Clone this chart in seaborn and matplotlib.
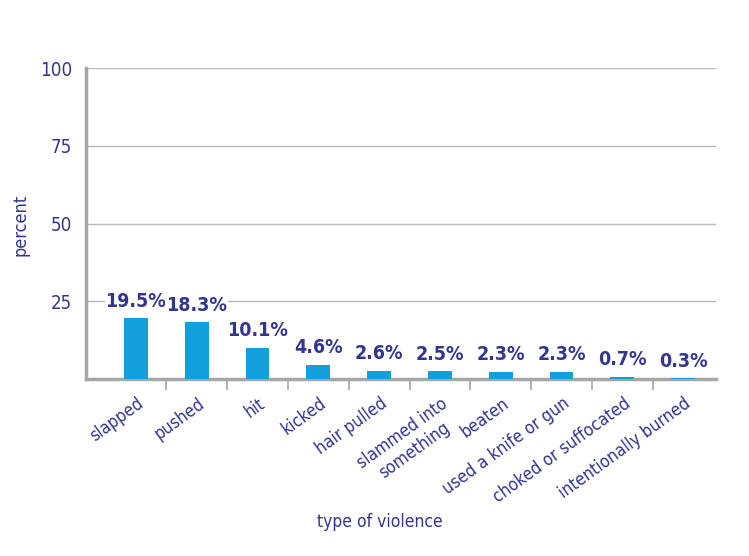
import matplotlib
matplotlib.use("Agg")
import matplotlib.pyplot as plt
import matplotlib.transforms as mtransforms
from matplotlib import font_manager
import seaborn as sns
import pandas as pd

categories = ["slapped", "pushed", "hit", "kicked", "hair pulled",
              "slammed into\nsomething", "beaten", "used a knife or gun",
              "choked or suffocated", "intentionally burned"]
values = [19.5, 18.3, 10.1, 4.6, 2.6, 2.5, 2.3, 2.3, 0.7, 0.3]
y_ticks = [25, 50, 75, 100]

TEXT = "#34358f"
BAR = "#139fd9"
GRID = "#b9b9bb"
SPINE = "#a6a6a8"

sns.set_theme(style="white")

# prefer a narrow face for all text
entries = font_manager.fontManager.ttflist
narrow = [f for f in entries
          if "narrow" in f.name.lower() or "condensed" in f.name.lower()
          or str(f.stretch).lower() in ("condensed", "semi-condensed", "extra-condensed", "ultra-condensed")
          or (isinstance(f.stretch, int) and f.stretch < 500)]
if narrow:
    plt.rcParams["font.family"] = [narrow[0].name, "DejaVu Sans"]
    plt.rcParams["font.stretch"] = narrow[0].stretch
    scale = 1.0
else:
    plt.rcParams["font.family"] = ["DejaVu Sans"]
    scale = 0.85

df = pd.DataFrame({"type": categories, "percent": values})

fig = plt.figure(figsize=(7.49, 5.56), dpi=100)
ax = fig.add_axes([86 / 749, 1 - 379 / 556, 630 / 749, 311 / 556])

sns.barplot(data=df, x="type", y="percent", color=BAR, width=0.39,
            saturation=1, linewidth=0, edgecolor="none", ax=ax, zorder=5)

ax.set_ylim(0, 100)
ax.set_xlim(-0.82, 9.54)
ax.set_yticks(y_ticks)
ax.set_yticklabels([str(t) for t in y_ticks], color=TEXT, fontsize=13.5 * scale)
ax.yaxis.grid(True, color=GRID, linewidth=1.0, zorder=0)
ax.set_axisbelow(True)

for side in ("top", "right"):
    ax.spines[side].set_visible(False)
for side in ("left", "bottom"):
    ax.spines[side].set_color(SPINE)
    ax.spines[side].set_linewidth(2.5)
    ax.spines[side].set_zorder(2)

ax.tick_params(axis="y", length=0, pad=10)

ax.set_xticks(range(len(categories)))
ax.set_xticklabels(categories, rotation=36, ha="right", rotation_mode="anchor",
                   color=TEXT, fontsize=12.5 * scale, multialignment="center")
ax.tick_params(axis="x", which="major", length=0, pad=11)
offset = mtransforms.ScaledTranslation(0.5 / 72, 0, fig.dpi_scale_trans)
for lab in ax.get_xticklabels():
    lab.set_transform(lab.get_transform() + offset)
ax.set_xticks([i + 0.5 for i in range(len(categories) - 1)], minor=True)
ax.tick_params(axis="x", which="minor", length=8, width=1.2, color=SPINE,
               direction="out", bottom=True)

for i, v in enumerate(values):
    ax.text(i, v + 2.4, f"{v:.1f}%", ha="center", va="bottom", color=TEXT,
            fontsize=14 * scale, fontweight="bold", zorder=6,
            bbox=dict(facecolor="white", edgecolor="none", pad=0.5))

ax.set_ylabel("percent", color=TEXT, fontsize=13 * scale)
ax.yaxis.set_label_coords(-0.09, 0.495)
ax.set_xlabel("type of violence", color=TEXT, fontsize=12.5 * scale)
ax.xaxis.set_label_coords(0.467, -0.43)

fig.savefig("out.png", dpi=100, facecolor="white")
